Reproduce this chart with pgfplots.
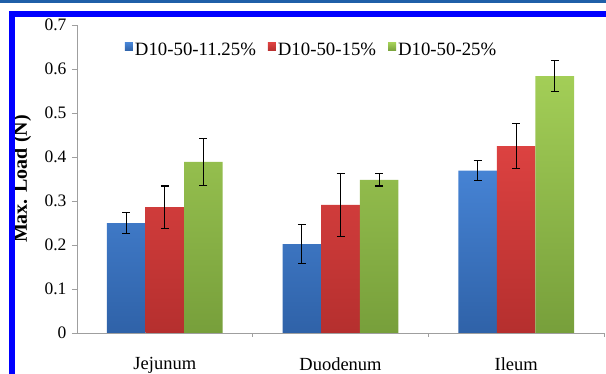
\documentclass[border=0pt]{standalone}
\usepackage{pgfplots}
\pgfplotsset{compat=1.18}
\usepackage{fontspec}
\setmainfont{Liberation Serif}

% bar colours: lighter at the top of each bar, darker at the base
\definecolor{blueTop}{HTML}{4683D4}
\definecolor{blueBot}{HTML}{2F62A8}
\definecolor{redTop}{HTML}{DC4241}
\definecolor{redBot}{HTML}{B52F2E}
\definecolor{greenTop}{HTML}{A3CE57}
\definecolor{greenBot}{HTML}{779F3B}
\definecolor{frameBlue}{HTML}{0000FF}
\definecolor{ruleBlue}{HTML}{1F5FA8}

% mean maximum load and error per region (x = 0 Jejunum, 1 Duodenum, 2 Ileum)
\pgfplotstableread{
x  y      e
0  0.250  0.023
1  0.202  0.044
2  0.369  0.023
}\lowconc
\pgfplotstableread{
x  y      e
0  0.286  0.048
1  0.291  0.072
2  0.425  0.052
}\midconc
\pgfplotstableread{
x  y      e
0  0.389  0.053
1  0.348  0.014
2  0.584  0.036
}\highconc

\begin{document}
\begin{tikzpicture}
\useasboundingbox (0,0) rectangle (606bp,374bp);
\begin{axis}[
  at={(77bp,41bp)}, anchor=south west,
  width=527bp, height=308bp, scale only axis,
  ybar=0pt, bar width=38.6bp,
  xmin=-0.5, xmax=2.5,
  ymin=0, ymax=0.7,
  axis x line*=bottom, axis y line*=left,
  axis line style={gray!75, line width=0.8bp},
  tick align=outside,
  xtick={0,1,2},
  xticklabels={Jejunum,Duodenum,Ileum},
  major x tick style={draw=none},
  minor xtick={0.5,1.5,2.5},
  minor x tick style={gray!75, line width=0.8bp},
  minor tick length=4bp,
  ytick={0,0.1,0.2,0.3,0.4,0.5,0.6,0.7},
  y tick style={gray!75, line width=0.8bp},
  major tick length=5bp,
  yticklabel style={font=\fontsize{17.5bp}{19bp}\selectfont, /pgf/number format/fixed, xshift=-2bp},
  xticklabel style={font=\fontsize{18.5bp}{20bp}\selectfont, yshift=-16bp},
  /pgf/number format/assume math mode=true,
  ylabel={\bfseries Max. Load (N)},
  ylabel style={font=\fontsize{20bp}{22bp}\selectfont,
    at={(axis description cs:-0.104,0.5)}, anchor=center},
  legend columns=3,
  legend style={draw=none, fill=none, at={(axis description cs:0.085,0.919)}, anchor=west,
    font=\fontsize{18.8bp}{20bp}\selectfont,
    /tikz/every even column/.append style={column sep=10bp}},
  legend image code/.code={\path[#1, draw=none] (0bp,-1bp) rectangle (8bp,7bp);},
  error bars/y dir=both, error bars/y explicit,
  error bars/error mark=-,
  error bars/error mark options={rotate=90, black, line width=1.1bp, mark size=4bp},
  error bars/error bar style={black, line width=1.1bp},
]
\addplot[draw=none, top color=blueTop, bottom color=blueBot]
  table[x=x, y=y, y error=e] {\lowconc};
\addlegendentry{D10-50-11.25\%}
\addplot[draw=none, top color=redTop, bottom color=redBot]
  table[x=x, y=y, y error=e] {\midconc};
\addlegendentry{D10-50-15\%}
\addplot[draw=none, top color=greenTop, bottom color=greenBot]
  table[x=x, y=y, y error=e] {\highconc};
\addlegendentry{D10-50-25\%}
\end{axis}
% page border of the figure panel
\fill[ruleBlue] (0,371bp) rectangle (606bp,374bp);
\draw[frameBlue, line width=6bp] (12bp,-20bp) -- (12bp,359.5bp) -- (640bp,359.5bp);
\end{tikzpicture}
\end{document}
